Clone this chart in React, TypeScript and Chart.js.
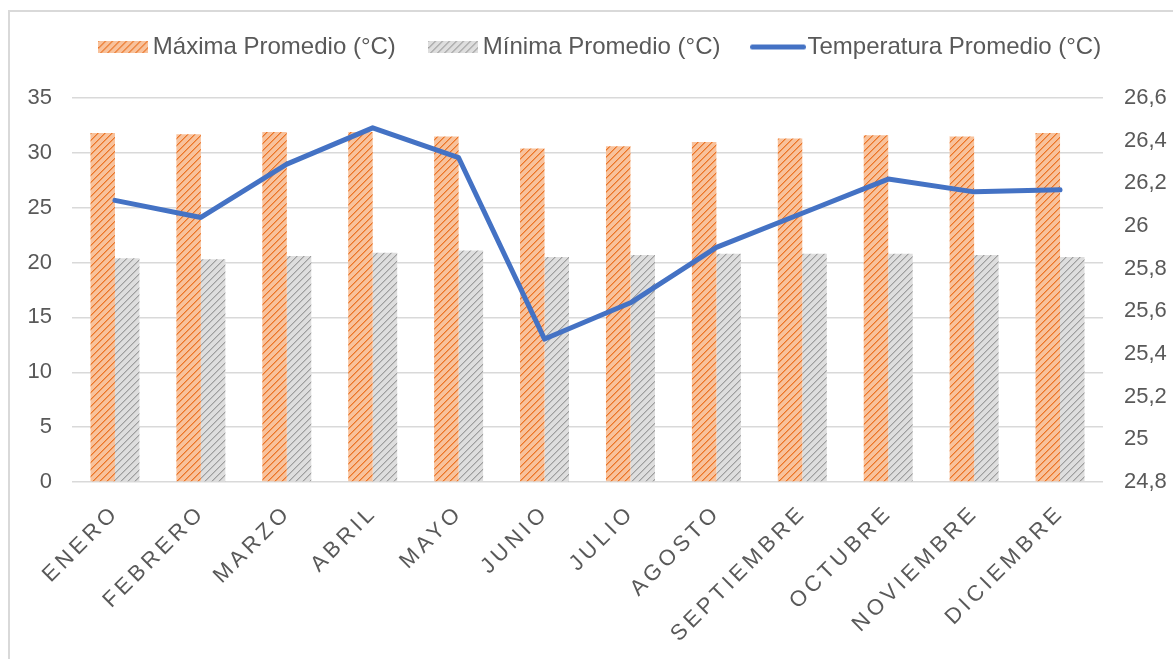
import React, { useEffect, useRef } from "react";
import { Chart, registerables } from "chart.js";

Chart.register(...registerables);

const categories = ["ENERO", "FEBRERO", "MARZO", "ABRIL", "MAYO", "JUNIO", "JULIO", "AGOSTO", "SEPTIEMBRE", "OCTUBRE", "NOVIEMBRE", "DICIEMBRE"];
const maxTemps = [31.8, 31.7, 31.9, 31.9, 31.5, 30.4, 30.6, 31.0, 31.3, 31.6, 31.5, 31.8];
const minTemps = [20.4, 20.3, 20.6, 20.9, 21.1, 20.5, 20.7, 20.8, 20.8, 20.8, 20.7, 20.5];
const avgTemps = [26.12, 26.04, 26.29, 26.46, 26.32, 25.47, 25.64, 25.9, 26.06, 26.22, 26.16, 26.17];
const seriesNames = ["Máxima Promedio (°C)", "Mínima Promedio (°C)", "Temperatura Promedio (°C)"];

const FONT = "'Liberation Sans', Arial, sans-serif";
const TEXT = "#595959";
const BLUE = "#4472C4";

function makeTile(bg: string, mid: string, fg: string, size: number) {
  const c = document.createElement("canvas");
  c.width = size;
  c.height = size;
  const g = c.getContext("2d")!;
  g.fillStyle = bg;
  g.fillRect(0, 0, size, size);
  for (let i = 0; i < size; i++) {
    const y = size - 1 - i;
    g.fillStyle = fg;
    g.fillRect(i, y, 1, 1);
    g.fillStyle = mid;
    g.fillRect((i + 1) % size, y, 1, 1);
  }
  return c;
}

function makeLegendBox(tile: HTMLCanvasElement, w: number, h: number) {
  const c = document.createElement("canvas");
  c.width = w;
  c.height = h;
  const g = c.getContext("2d")!;
  g.fillStyle = g.createPattern(tile, "repeat")!;
  g.fillRect(0, 0, w, h);
  return c;
}

function makeLegendLine(w: number, h: number) {
  const c = document.createElement("canvas");
  c.width = w;
  c.height = h + 2;
  const g = c.getContext("2d")!;
  g.strokeStyle = BLUE;
  g.lineWidth = h;
  g.lineCap = "round";
  g.beginPath();
  g.moveTo(h / 2, (h + 2) / 2);
  g.lineTo(w - h / 2, (h + 2) / 2);
  g.stroke();
  return c;
}

const LEGEND_H = 98;
const LEGEND_TOP = -5;
const LEGEND_DX = 17;
const X_LABEL_DX = 1;

const layoutPlugin = {
  id: "layoutFix",
  beforeUpdate(chart: any) {
    const lg = chart.legend;
    if (lg && !lg._patched) {
      const f = lg.fit;
      lg.fit = function () {
        f.call(this);
        this.height = LEGEND_H;
      };
      lg._patched = true;
    }
  },
  afterLayout(chart: any) {
    const lg = chart.legend;
    if (lg) {
      lg.top = LEGEND_TOP;
      lg.left += LEGEND_DX;
      lg.right += LEGEND_DX;
    }
  },
  beforeDraw(chart: any) {
    const x = chart.scales.x;
    if (x && !x._patched) {
      const d = x.drawLabels;
      x.drawLabels = function (area: any) {
        const c = this.ctx;
        c.save();
        c.letterSpacing = "4px";
        c.translate(X_LABEL_DX, 0);
        d.call(this, area);
        c.restore();
      };
      x._patched = true;
    }
  },
};

export default function App() {
  const ref = useRef<HTMLCanvasElement>(null);
  useEffect(() => {
    const canvas = ref.current!;
    const ctx = canvas.getContext("2d")!;
    const orangeTile = makeTile("#F8C29C", "#F29A5C", "#EB7428", 7);
    const grayTile = makeTile("#DEDEDE", "#C0C0C0", "#9E9E9E", 7);
    const orangePat = ctx.createPattern(orangeTile, "repeat")!;
    const grayPat = ctx.createPattern(grayTile, "repeat")!;
    const legendImgs = [makeLegendBox(orangeTile, 50, 12), makeLegendBox(grayTile, 50, 12), makeLegendLine(56, 5)];

    const chart = new Chart(canvas, {
      type: "bar",
      data: {
        labels: categories,
        datasets: [
          {
            type: "bar",
            label: seriesNames[0],
            data: maxTemps,
            backgroundColor: orangePat as any,
            borderWidth: 0,
            yAxisID: "y",
            order: 1,
            categoryPercentage: 0.57,
            barPercentage: 1.0,
          },
          {
            type: "bar",
            label: seriesNames[1],
            data: minTemps,
            backgroundColor: grayPat as any,
            borderWidth: 0,
            yAxisID: "y",
            order: 2,
            categoryPercentage: 0.57,
            barPercentage: 1.0,
          },
          {
            type: "line",
            label: seriesNames[2],
            data: avgTemps,
            borderColor: BLUE,
            backgroundColor: BLUE,
            borderWidth: 5,
            pointRadius: 0,
            tension: 0,
            fill: false,
            yAxisID: "y1",
            order: 0,
            borderJoinStyle: "round",
            borderCapStyle: "round",
          } as any,
        ],
      },
      options: {
        responsive: false,
        animation: false,
        devicePixelRatio: 1,
        layout: { padding: { left: 0, right: 0, top: 0, bottom: 0 }, autoPadding: false },
        plugins: {
          tooltip: { enabled: false },
          legend: {
            display: true,
            position: "top",
            align: "center",
            labels: {
              usePointStyle: true,
              pointStyleWidth: 35,
              padding: 40,
              color: TEXT,
              font: { family: FONT, size: 24 },
              sort: (a: any, b: any) => a.datasetIndex - b.datasetIndex,
              generateLabels: (ch: any) => {
                const items = Chart.defaults.plugins.legend.labels.generateLabels(ch);
                return items.map((it: any) => ({ ...it, pointStyle: legendImgs[it.datasetIndex] }));
              },
            },
          },
        },
        scales: {
          x: {
            offset: true,
            grid: { display: false, drawTicks: false },
            border: { display: false },
            ticks: {
              autoSkip: false,
              minRotation: 45,
              maxRotation: 45,
              padding: 18,
              color: TEXT,
              font: { family: FONT, size: 22 },
            },
            afterFit: (s: any) => {
              s.height = 177;
            },
          },
          y: {
            position: "left",
            min: 0,
            max: 35,
            ticks: { stepSize: 5, padding: 20, color: TEXT, font: { family: FONT, size: 22 } },
            grid: { color: "#D9D9D9", lineWidth: 1.5, drawTicks: false },
            border: { display: false },
            afterFit: (s: any) => {
              s.width = 72;
            },
          },
          y1: {
            position: "right",
            min: 24.8,
            max: 26.6,
            ticks: {
              stepSize: 0.2,
              padding: 21,
              color: TEXT,
              font: { family: FONT, size: 22 },
              callback: (v: any) => String(Number(Number(v).toFixed(1))).replace(".", ","),
            },
            grid: { display: false, drawTicks: false },
            border: { display: false },
            afterFit: (s: any) => {
              s.width = 70;
            },
          },
        },
      },
      plugins: [layoutPlugin],
    });
    return () => chart.destroy();
  }, []);

  return (
    <div style={{ position: "fixed", left: 0, top: 0, width: 1173, height: 659, background: "#fff", overflow: "hidden" }}>
      <div
        style={{
          position: "absolute",
          left: 8,
          top: 10,
          width: 1300,
          height: 800,
          borderLeft: "2px solid #D9D9D9",
          borderTop: "2px solid #D9D9D9",
        }}
      />
      <canvas ref={ref} width={1173} height={659} style={{ position: "absolute", left: 0, top: 0, width: 1173, height: 659 }} />
    </div>
  );
}
